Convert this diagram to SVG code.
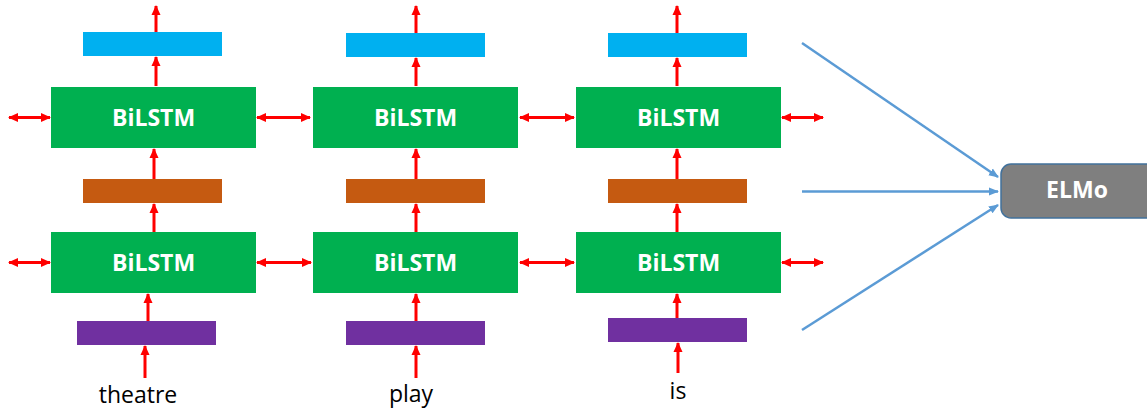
<svg xmlns="http://www.w3.org/2000/svg" width="1147" height="412" viewBox="0 0 1147 412">
<style>
.lstm{fill:#00b050}
.blue{fill:#00b0f0}
.orange{fill:#c55a11}
.purple{fill:#7030a0}
.lt{font-family:"Open Sans","Liberation Sans",sans-serif;font-weight:bold;font-size:23px;fill:#ffffff;text-anchor:middle}
.word{font-family:"Open Sans","Liberation Sans",sans-serif;font-size:23px;fill:#000000;text-anchor:middle}
.red{stroke:#ff0000;stroke-width:3;fill:none;marker-end:url(#ra)}
.redd{stroke:#ff0000;stroke-width:3;fill:none;marker-end:url(#ra);marker-start:url(#ras)}
.bl{stroke:#5b9bd5;stroke-width:2.5;fill:none;marker-end:url(#ba)}
</style>
<defs>
<marker id="ra" markerWidth="10" markerHeight="10" viewBox="0 0 10 10" refX="9" refY="5" orient="auto" markerUnits="userSpaceOnUse">
<path d="M0,0.5 L10,5 L0,9.5 z" fill="#ff0000"/>
</marker>
<marker id="ras" markerWidth="10" markerHeight="10" viewBox="0 0 10 10" refX="1" refY="5" orient="auto" markerUnits="userSpaceOnUse">
<path d="M10,0.5 L0,5 L10,9.5 z" fill="#ff0000"/>
</marker>
<marker id="ba" markerWidth="10" markerHeight="10" viewBox="0 0 10 10" refX="9" refY="5" orient="auto" markerUnits="userSpaceOnUse">
<path d="M0,1 L10,5 L0,9 z" fill="#5b9bd5"/>
</marker>
</defs>

<g id="col1">
<rect class="blue" x="83" y="32" width="139" height="24"/>
<rect id="lstm1top" class="lstm" x="51" y="87" width="205" height="61"/>
<text class="lt" x="153.5" y="126">BiLSTM</text>
<rect class="orange" x="83" y="179" width="139" height="24"/>
<rect class="lstm" x="51" y="232" width="205" height="61"/>
<text class="lt" x="153.5" y="271">BiLSTM</text>
<rect class="purple" x="77" y="321" width="139" height="24"/>
<text class="word" x="138" y="403">theatre</text>
</g>

<g id="col2">
<rect class="blue" x="346" y="33" width="139" height="24"/>
<rect class="lstm" x="313" y="87" width="205" height="61"/>
<text class="lt" x="415.5" y="126">BiLSTM</text>
<rect class="orange" x="346" y="179" width="139" height="24"/>
<rect class="lstm" x="313" y="232" width="205" height="61"/>
<text class="lt" x="415.5" y="271">BiLSTM</text>
<rect class="purple" x="346" y="321" width="139" height="24"/>
<text class="word" x="411" y="402">play</text>
</g>

<g id="col3">
<rect class="blue" x="608" y="33" width="139" height="24"/>
<rect class="lstm" x="576" y="87" width="205" height="61"/>
<text class="lt" x="678.5" y="126">BiLSTM</text>
<rect class="orange" x="608" y="179" width="139" height="24"/>
<rect class="lstm" x="576" y="232" width="205" height="61"/>
<text class="lt" x="678.5" y="271">BiLSTM</text>
<rect class="purple" x="608" y="318" width="139" height="24"/>
<text class="word" x="678" y="399">is</text>
</g>

<g id="elmo">
<rect x="1001" y="164" width="160" height="54" rx="10" ry="10" fill="#7f7f7f" stroke="#41719c" stroke-width="1.5"/>
<text class="lt" x="1077" y="198">ELMo</text>
</g>

<g id="connectors">
<!-- column 1 vertical -->
<line class="red" x1="156" y1="32" x2="156" y2="6"/>
<line class="red" x1="156" y1="86" x2="156" y2="57"/>
<line class="red" x1="154" y1="179" x2="154" y2="149"/>
<line class="red" x1="154" y1="232" x2="154" y2="204"/>
<line class="red" x1="148" y1="321" x2="148" y2="294"/>
<line class="red" x1="145" y1="378" x2="145" y2="346"/>
<!-- column 2 vertical -->
<line class="red" x1="416" y1="33" x2="416" y2="6"/>
<line class="red" x1="416" y1="86" x2="416" y2="58"/>
<line class="red" x1="416" y1="179" x2="416" y2="149"/>
<line class="red" x1="416" y1="232" x2="416" y2="204"/>
<line class="red" x1="416" y1="321" x2="416" y2="294"/>
<line class="red" x1="416" y1="378" x2="416" y2="346"/>
<!-- column 3 vertical -->
<line class="red" x1="677" y1="33" x2="677" y2="6"/>
<line class="red" x1="677" y1="86" x2="677" y2="58"/>
<line class="red" x1="677" y1="179" x2="677" y2="149"/>
<line class="red" x1="677" y1="232" x2="677" y2="204"/>
<line class="red" x1="677" y1="318" x2="677" y2="294"/>
<line class="red" x1="678" y1="373" x2="678" y2="343"/>
<!-- horizontal double arrows top row -->
<line class="redd" x1="9" y1="117.5" x2="50" y2="117.5"/>
<line class="redd" x1="257" y1="117.5" x2="310" y2="117.5"/>
<line class="redd" x1="520" y1="117.5" x2="574" y2="117.5"/>
<line class="redd" x1="782" y1="117.5" x2="823" y2="117.5"/>
<!-- horizontal double arrows bottom row -->
<line class="redd" x1="9" y1="262.5" x2="50" y2="262.5"/>
<line class="redd" x1="257" y1="262.5" x2="311" y2="262.5"/>
<line class="redd" x1="520" y1="262.5" x2="574" y2="262.5"/>
<line class="redd" x1="782" y1="262.5" x2="823" y2="262.5"/>
<!-- to ELMo -->
<line class="bl" x1="802" y1="43" x2="998" y2="177"/>
<line class="bl" x1="802" y1="191.5" x2="998" y2="191.5"/>
<line class="bl" x1="802" y1="330" x2="998" y2="205"/>
</g>
</svg>
